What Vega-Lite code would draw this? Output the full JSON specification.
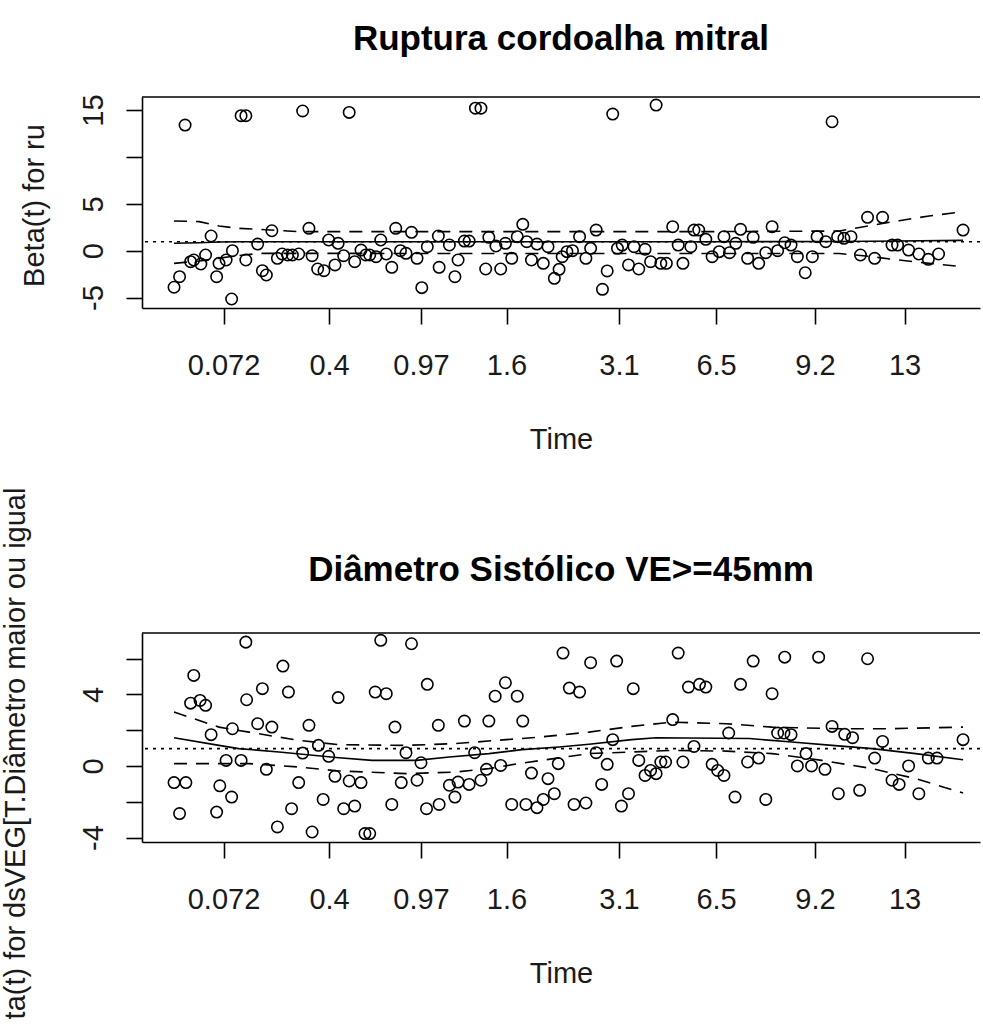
{
  "$schema": "https://vega.github.io/schema/vega-lite/v6.json",
  "background": "white",
  "padding": {"left": 0, "top": 21, "right": 0, "bottom": 0},
  "bounds": "flush",
  "spacing": 325,
  "config": {
    "view": {"stroke": null},
    "font": "Liberation Sans",
    "axis": {
      "domainColor": "#000", "domainWidth": 1.6,
      "tickColor": "#000", "tickWidth": 1.6, "tickSize": 16,
      "labelFont": "Liberation Sans", "labelFontSize": 29, "labelColor": "#1a1a1a",
      "titleFont": "Liberation Sans", "titleFontSize": 29, "titleFontWeight": "normal", "titleColor": "#1a1a1a",
      "grid": false, "labelOverlap": false, "labelFlush": false, "labelBound": false
    },
    "title": {
      "font": "Liberation Sans", "fontSize": 35, "fontWeight": "bold", "color": "#000",
      "anchor": "middle", "frame": "group", "baseline": "alphabetic"
    }
  },
  "datasets": {
    "p1": [
      {"km":0.014,"beta":13.4},{"km":0.085,"beta":14.4},{"km":0.091,"beta":14.4},{"km":0.163,"beta":14.9},
      {"km":0.222,"beta":14.75},{"km":0.382,"beta":15.2},{"km":0.389,"beta":15.2},
      {"km":0.0,"beta":-3.9},{"km":0.007,"beta":-2.77},{"km":0.021,"beta":-1.17},{"km":0.025,"beta":-0.99},
      {"km":0.034,"beta":-1.42},{"km":0.04,"beta":-0.46},{"km":0.047,"beta":1.57},{"km":0.054,"beta":-2.77},
      {"km":0.057,"beta":-1.35},{"km":0.066,"beta":-0.99},{"km":0.073,"beta":-5.15},{"km":0.074,"beta":0},
      {"km":0.091,"beta":-0.99},{"km":0.106,"beta":0.71},{"km":0.112,"beta":-2.13},{"km":0.117,"beta":-2.59},
      {"km":0.124,"beta":2.13},{"km":0.131,"beta":-0.81},{"km":0.137,"beta":-0.35},{"km":0.144,"beta":-0.46},
      {"km":0.15,"beta":-0.46},{"km":0.158,"beta":-0.35},{"km":0.171,"beta":2.39},{"km":0.175,"beta":-0.53},
      {"km":0.182,"beta":-1.95},{"km":0.19,"beta":-2.13},{"km":0.196,"beta":1.14},{"km":0.204,"beta":-1.52},
      {"km":0.208,"beta":0.79},{"km":0.215,"beta":-0.53},{"km":0.229,"beta":-1.17},{"km":0.237,"beta":0.07},
      {"km":0.243,"beta":-0.46},{"km":0.248,"beta":-0.46},{"km":0.256,"beta":-0.64},{"km":0.262,"beta":1.14},
      {"km":0.269,"beta":-0.35},{"km":0.276,"beta":-1.77},{"km":0.281,"beta":2.39},{"km":0.287,"beta":0},
      {"km":0.294,"beta":-0.28},{"km":0.301,"beta":1.96},{"km":0.308,"beta":-0.81},{"km":0.314,"beta":-3.94},
      {"km":0.321,"beta":0.43},{"km":0.335,"beta":1.57},{"km":0.336,"beta":-1.77},{"km":0.349,"beta":0.61},
      {"km":0.356,"beta":-2.77},{"km":0.36,"beta":-0.99},{"km":0.368,"beta":1.03},{"km":0.374,"beta":1.03},
      {"km":0.395,"beta":-1.95},{"km":0.399,"beta":1.43},{"km":0.408,"beta":0.5},{"km":0.414,"beta":-1.95},
      {"km":0.42,"beta":0.79},{"km":0.428,"beta":-0.81},{"km":0.435,"beta":1.5},{"km":0.442,"beta":2.81},
      {"km":0.447,"beta":0.96},{"km":0.453,"beta":-0.99},{"km":0.46,"beta":0.71},{"km":0.468,"beta":-1.35},
      {"km":0.474,"beta":0.43},{"km":0.482,"beta":-2.95},{"km":0.488,"beta":-1.99},{"km":0.492,"beta":-0.64},
      {"km":0.498,"beta":-0.1},{"km":0.505,"beta":0},{"km":0.514,"beta":1.5},{"km":0.522,"beta":-0.81},
      {"km":0.528,"beta":0.25},{"km":0.535,"beta":2.2},{"km":0.543,"beta":-4.12},{"km":0.549,"beta":-2.16},
      {"km":0.556,"beta":14.57},{"km":0.562,"beta":0.25},{"km":0.568,"beta":0.6},{"km":0.576,"beta":-1.52},
      {"km":0.583,"beta":0.43},{"km":0.589,"beta":-1.95},{"km":0.597,"beta":0.15},{"km":0.604,"beta":-1.17},
      {"km":0.611,"beta":15.53},{"km":0.617,"beta":-1.35},{"km":0.624,"beta":-1.35},{"km":0.632,"beta":2.56},
      {"km":0.639,"beta":0.6},{"km":0.645,"beta":-1.35},{"km":0.655,"beta":0.43},{"km":0.659,"beta":2.2},
      {"km":0.665,"beta":2.2},{"km":0.674,"beta":1.21},{"km":0.682,"beta":-0.64},{"km":0.691,"beta":-0.1},
      {"km":0.697,"beta":1.5},{"km":0.704,"beta":-0.21},{"km":0.712,"beta":0.79},{"km":0.718,"beta":2.28},
      {"km":0.727,"beta":-0.81},{"km":0.734,"beta":1.43},{"km":0.741,"beta":-1.35},{"km":0.75,"beta":-0.21},
      {"km":0.758,"beta":2.56},{"km":0.765,"beta":0},{"km":0.774,"beta":0.85},{"km":0.782,"beta":0.6},
      {"km":0.79,"beta":-0.64},{"km":0.8,"beta":-2.35},{"km":0.809,"beta":-0.64},{"km":0.815,"beta":1.5},
      {"km":0.826,"beta":0.96},{"km":0.834,"beta":13.75},{"km":0.841,"beta":1.5},{"km":0.849,"beta":1.32},
      {"km":0.858,"beta":1.5},{"km":0.87,"beta":-0.46},{"km":0.879,"beta":3.56},{"km":0.888,"beta":-0.81},
      {"km":0.898,"beta":3.56},{"km":0.91,"beta":0.6},{"km":0.917,"beta":0.6},{"km":0.931,"beta":0.07},
      {"km":0.944,"beta":-0.35},{"km":0.956,"beta":-0.92},{"km":0.969,"beta":-0.35},{"km":1.0,"beta":2.2}
    ],
    "l1": [
      {"series":"fit","km":0.0,"beta":0.79},{"series":"fit","km":0.032,"beta":0.85},{"series":"fit","km":0.057,"beta":0.93},
      {"series":"fit","km":0.082,"beta":0.96},{"series":"fit","km":0.412,"beta":0.96},{"series":"fit","km":0.665,"beta":0.96},
      {"series":"fit","km":0.843,"beta":0.98},{"series":"fit","km":0.919,"beta":1.04},{"series":"fit","km":1.0,"beta":1.1},
      {"series":"upper","km":0.0,"beta":3.17},{"series":"upper","km":0.032,"beta":3.1},{"series":"upper","km":0.057,"beta":2.63},
      {"series":"upper","km":0.082,"beta":2.39},{"series":"upper","km":0.158,"beta":2.03},{"series":"upper","km":0.412,"beta":2.03},
      {"series":"upper","km":0.665,"beta":2.03},{"series":"upper","km":0.843,"beta":2.1},{"series":"upper","km":0.881,"beta":2.65},
      {"series":"upper","km":0.919,"beta":3.2},{"series":"upper","km":0.957,"beta":3.7},{"series":"upper","km":1.0,"beta":4.16},
      {"series":"lower","km":0.0,"beta":-1.35},{"series":"lower","km":0.032,"beta":-1.1},{"series":"lower","km":0.07,"beta":-0.64},
      {"series":"lower","km":0.108,"beta":-0.28},{"series":"lower","km":0.412,"beta":-0.3},{"series":"lower","km":0.665,"beta":-0.3},
      {"series":"lower","km":0.843,"beta":-0.3},{"series":"lower","km":0.881,"beta":-0.6},{"series":"lower","km":0.919,"beta":-1.0},
      {"series":"lower","km":0.957,"beta":-1.35},{"series":"lower","km":1.0,"beta":-1.7}
    ],
    "c1": [{"beta": 0.96}],
    "box1": [{"beta": 16.39}],
    "p2": [
      {"km":0.0,"beta":-0.93},{"km":0.015,"beta":-0.93},{"km":0.007,"beta":-2.66},{"km":0.025,"beta":5.06},
      {"km":0.021,"beta":3.51},{"km":0.033,"beta":3.66},{"km":0.04,"beta":3.39},{"km":0.047,"beta":1.75},
      {"km":0.054,"beta":-2.58},{"km":0.058,"beta":-1.11},{"km":0.066,"beta":0.31},{"km":0.073,"beta":-1.74},
      {"km":0.074,"beta":2.08},{"km":0.085,"beta":0.31},{"km":0.091,"beta":6.92},{"km":0.092,"beta":3.7},
      {"km":0.106,"beta":2.36},{"km":0.112,"beta":4.32},{"km":0.117,"beta":-0.19},{"km":0.124,"beta":2.17},
      {"km":0.131,"beta":-3.41},{"km":0.138,"beta":5.58},{"km":0.145,"beta":4.13},{"km":0.149,"beta":-2.39},
      {"km":0.158,"beta":-0.93},{"km":0.163,"beta":0.72},{"km":0.171,"beta":2.27},{"km":0.175,"beta":-3.69},
      {"km":0.183,"beta":1.15},{"km":0.189,"beta":-1.87},{"km":0.196,"beta":0.54},{"km":0.204,"beta":-0.58},
      {"km":0.208,"beta":3.82},{"km":0.215,"beta":-2.39},{"km":0.222,"beta":-0.84},{"km":0.229,"beta":-2.24},
      {"km":0.237,"beta":-0.93},{"km":0.242,"beta":-3.78},{"km":0.248,"beta":-3.78},{"km":0.255,"beta":4.13},
      {"km":0.262,"beta":7.02},{"km":0.269,"beta":4.04},{"km":0.276,"beta":-2.15},{"km":0.28,"beta":2.17},
      {"km":0.288,"beta":-0.93},{"km":0.294,"beta":0.74},{"km":0.301,"beta":6.83},{"km":0.308,"beta":-0.8},
      {"km":0.313,"beta":0.18},{"km":0.32,"beta":-2.39},{"km":0.321,"beta":4.56},{"km":0.335,"beta":2.27},
      {"km":0.336,"beta":-2.15},{"km":0.349,"beta":-1.08},{"km":0.356,"beta":-1.74},{"km":0.36,"beta":-0.9},
      {"km":0.368,"beta":2.51},{"km":0.374,"beta":-1.03},{"km":0.381,"beta":0.74},{"km":0.389,"beta":-0.8},
      {"km":0.396,"beta":-0.19},{"km":0.399,"beta":2.51},{"km":0.407,"beta":3.9},{"km":0.414,"beta":0.03},
      {"km":0.42,"beta":4.65},{"km":0.428,"beta":-2.15},{"km":0.435,"beta":3.9},{"km":0.442,"beta":2.51},
      {"km":0.446,"beta":-2.15},{"km":0.453,"beta":-0.4},{"km":0.46,"beta":-2.33},{"km":0.468,"beta":-1.87},
      {"km":0.474,"beta":-0.71},{"km":0.482,"beta":-1.55},{"km":0.487,"beta":0.13},{"km":0.493,"beta":6.31},
      {"km":0.501,"beta":4.35},{"km":0.514,"beta":4.13},{"km":0.507,"beta":-2.15},{"km":0.522,"beta":-2.07},
      {"km":0.528,"beta":5.77},{"km":0.535,"beta":0.74},{"km":0.542,"beta":-1.03},{"km":0.549,"beta":0.09},
      {"km":0.556,"beta":1.47},{"km":0.561,"beta":5.86},{"km":0.567,"beta":-2.24},{"km":0.576,"beta":-1.55},
      {"km":0.582,"beta":4.32},{"km":0.589,"beta":0.31},{"km":0.597,"beta":-0.53},{"km":0.604,"beta":-0.25},
      {"km":0.611,"beta":-0.43},{"km":0.617,"beta":0.22},{"km":0.623,"beta":0.22},{"km":0.632,"beta":2.59},
      {"km":0.639,"beta":6.31},{"km":0.645,"beta":0.22},{"km":0.652,"beta":4.41},{"km":0.666,"beta":4.56},
      {"km":0.674,"beta":4.41},{"km":0.659,"beta":1.09},{"km":0.682,"beta":0.09},{"km":0.689,"beta":-0.25},
      {"km":0.697,"beta":-0.53},{"km":0.703,"beta":1.84},{"km":0.711,"beta":-1.74},{"km":0.718,"beta":4.56},
      {"km":0.727,"beta":0.22},{"km":0.734,"beta":5.86},{"km":0.741,"beta":0.44},{"km":0.75,"beta":-1.87},
      {"km":0.758,"beta":4.04},{"km":0.765,"beta":1.84},{"km":0.773,"beta":1.84},{"km":0.782,"beta":1.75},
      {"km":0.774,"beta":6.08},{"km":0.79,"beta":0},{"km":0.801,"beta":0.69},{"km":0.808,"beta":0},
      {"km":0.817,"beta":6.08},{"km":0.825,"beta":-0.19},{"km":0.834,"beta":2.21},{"km":0.842,"beta":-1.55},
      {"km":0.85,"beta":1.77},{"km":0.86,"beta":1.58},{"km":0.869,"beta":-1.36},{"km":0.879,"beta":5.99},
      {"km":0.888,"beta":0.44},{"km":0.898,"beta":1.37},{"km":0.91,"beta":-0.8},{"km":0.919,"beta":-1.03},
      {"km":0.931,"beta":0},{"km":0.944,"beta":-1.55},{"km":0.956,"beta":0.44},{"km":0.967,"beta":0.44},
      {"km":1.0,"beta":1.47}
    ],
    "l2": [
      {"series":"fit","km":0.0,"beta":1.58},{"series":"fit","km":0.057,"beta":1.15},{"series":"fit","km":0.082,"beta":0.97},
      {"series":"fit","km":0.133,"beta":0.78},{"series":"fit","km":0.209,"beta":0.46},{"series":"fit","km":0.251,"beta":0.31},
      {"series":"fit","km":0.307,"beta":0.31},{"series":"fit","km":0.349,"beta":0.5},{"series":"fit","km":0.399,"beta":0.69},
      {"series":"fit","km":0.441,"beta":0.91},{"series":"fit","km":0.488,"beta":1.06},{"series":"fit","km":0.526,"beta":1.21},
      {"series":"fit","km":0.58,"beta":1.47},{"series":"fit","km":0.611,"beta":1.58},{"series":"fit","km":0.729,"beta":1.53},
      {"series":"fit","km":0.783,"beta":1.34},{"series":"fit","km":0.834,"beta":1.15},{"series":"fit","km":0.885,"beta":0.97},
      {"series":"fit","km":0.94,"beta":0.69},{"series":"fit","km":1.0,"beta":0.35},
      {"series":"upper","km":0.0,"beta":3.01},{"series":"upper","km":0.057,"beta":2.17},{"series":"upper","km":0.095,"beta":1.89},
      {"series":"upper","km":0.158,"beta":1.43},{"series":"upper","km":0.209,"beta":1.19},{"series":"upper","km":0.294,"beta":1.15},
      {"series":"upper","km":0.357,"beta":1.25},{"series":"upper","km":0.421,"beta":1.47},{"series":"upper","km":0.46,"beta":1.6},
      {"series":"upper","km":0.526,"beta":1.89},{"series":"upper","km":0.58,"beta":2.21},{"series":"upper","km":0.631,"beta":2.45},
      {"series":"upper","km":0.7,"beta":2.36},{"series":"upper","km":0.758,"beta":2.17},{"series":"upper","km":0.843,"beta":2.08},
      {"series":"upper","km":0.906,"beta":2.08},{"series":"upper","km":1.0,"beta":2.17},
      {"series":"lower","km":0.0,"beta":0.13},{"series":"lower","km":0.095,"beta":0.13},{"series":"lower","km":0.158,"beta":-0.06},
      {"series":"lower","km":0.209,"beta":-0.28},{"series":"lower","km":0.294,"beta":-0.43},{"series":"lower","km":0.357,"beta":-0.34},
      {"series":"lower","km":0.399,"beta":-0.15},{"series":"lower","km":0.441,"beta":0.16},{"series":"lower","km":0.488,"beta":0.45},
      {"series":"lower","km":0.526,"beta":0.69},{"series":"lower","km":0.58,"beta":0.78},{"series":"lower","km":0.631,"beta":0.87},
      {"series":"lower","km":0.7,"beta":0.83},{"series":"lower","km":0.758,"beta":0.69},{"series":"lower","km":0.821,"beta":0.31},
      {"series":"lower","km":0.885,"beta":-0.15},{"series":"lower","km":0.94,"beta":-0.71},{"series":"lower","km":1.0,"beta":-1.51}
    ],
    "c2": [{"beta": 0.97}],
    "box2": [{"beta": 7.43}]
  },
  "vconcat": [
    {
      "width": 838,
      "height": 211,
      "title": {"text": "Ruptura cordoalha mitral", "offset": 37},
      "layer": [
        {
          "data": {"name": "p1"},
          "mark": {"type": "point", "shape": "circle", "filled": false, "color": "#000", "size": 130, "strokeWidth": 1.6, "opacity": 1},
          "encoding": {
            "x": {
              "field": "km", "type": "quantitative",
              "scale": {"domain": [-0.0406, 1.0215], "nice": false, "zero": false},
              "axis": {
                "values": [0.0627, 0.1965, 0.313, 0.4214, 0.564, 0.687, 0.8124, 0.9259],
                "labelExpr": "datum.value < 0.1 ? '0.072' : datum.value < 0.25 ? '0.4' : datum.value < 0.35 ? '0.97' : datum.value < 0.5 ? '1.6' : datum.value < 0.6 ? '3.1' : datum.value < 0.75 ? '6.5' : datum.value < 0.87 ? '9.2' : '13'",
                "labelPadding": 27,
                "title": "Time", "titleX": 419, "titleY": 140, "titleAlign": "center", "titleBaseline": "alphabetic"
              }
            },
            "y": {
              "field": "beta", "type": "quantitative",
              "scale": {"domain": [-6.11, 16.39], "nice": false, "zero": false},
              "axis": {
                "values": [-5, 0, 5, 10, 15],
                "labelExpr": "datum.value == 10 ? '' : '' + datum.value",
                "labelAngle": 270, "labelAlign": "center", "labelBaseline": "alphabetic", "labelPadding": 24,
                "title": "Beta(t) for ru", "titleAngle": 270, "titleX": -99, "titleY": 108,
                "titleAlign": "center", "titleBaseline": "alphabetic"
              }
            }
          }
        },
        {
          "data": {"name": "l1"},
          "transform": [{"filter": "datum.series == 'fit'"}],
          "mark": {"type": "line", "color": "#000", "strokeWidth": 1.6},
          "encoding": {
            "x": {"field": "km", "type": "quantitative"},
            "y": {"field": "beta", "type": "quantitative"}
          }
        },
        {
          "data": {"name": "l1"},
          "transform": [{"filter": "datum.series != 'fit'"}],
          "mark": {"type": "line", "color": "#000", "strokeWidth": 1.6, "strokeDash": [13, 9]},
          "encoding": {
            "x": {"field": "km", "type": "quantitative"},
            "y": {"field": "beta", "type": "quantitative"},
            "detail": {"field": "series"}
          }
        },
        {
          "data": {"name": "c1"},
          "mark": {"type": "rule", "color": "#000", "strokeWidth": 1.6, "strokeDash": [3, 5]},
          "encoding": {"y": {"field": "beta", "type": "quantitative"}}
        },
        {
          "data": {"name": "box1"},
          "mark": {"type": "rule", "color": "#000", "strokeWidth": 1.6},
          "encoding": {"y": {"field": "beta", "type": "quantitative"}}
        }
      ]
    },
    {
      "width": 838,
      "height": 209,
      "title": {"text": "Diâmetro Sistólico VE>=45mm", "offset": -101},
      "layer": [
        {
          "data": {"name": "p2"},
          "mark": {"type": "point", "shape": "circle", "filled": false, "color": "#000", "size": 130, "strokeWidth": 1.6, "opacity": 1},
          "encoding": {
            "x": {
              "field": "km", "type": "quantitative",
              "scale": {"domain": [-0.0406, 1.0215], "nice": false, "zero": false},
              "axis": {
                "values": [0.0627, 0.1965, 0.313, 0.4214, 0.564, 0.687, 0.8124, 0.9259],
                "labelExpr": "datum.value < 0.1 ? '0.072' : datum.value < 0.25 ? '0.4' : datum.value < 0.35 ? '0.97' : datum.value < 0.5 ? '1.6' : datum.value < 0.6 ? '3.1' : datum.value < 0.75 ? '6.5' : datum.value < 0.87 ? '9.2' : '13'",
                "labelPadding": 27,
                "title": "Time", "titleX": 419, "titleY": 140, "titleAlign": "center", "titleBaseline": "alphabetic"
              }
            },
            "y": {
              "field": "beta", "type": "quantitative",
              "scale": {"domain": [-4.25, 7.43], "nice": false, "zero": false},
              "axis": {
                "values": [-4, -2, 0, 2, 4, 6],
                "labelExpr": "datum.value == -4 || datum.value == 0 || datum.value == 4 ? '' + datum.value : ''",
                "labelAngle": 270, "labelAlign": "center", "labelBaseline": "alphabetic", "labelPadding": 24,
                "title": "ta(t) for dsVEG[T.Diâmetro maior ou igual", "titleAngle": 270, "titleX": -118, "titleY": 120,
                "titleAlign": "center", "titleBaseline": "alphabetic"
              }
            }
          }
        },
        {
          "data": {"name": "l2"},
          "transform": [{"filter": "datum.series == 'fit'"}],
          "mark": {"type": "line", "color": "#000", "strokeWidth": 1.6},
          "encoding": {
            "x": {"field": "km", "type": "quantitative"},
            "y": {"field": "beta", "type": "quantitative"}
          }
        },
        {
          "data": {"name": "l2"},
          "transform": [{"filter": "datum.series != 'fit'"}],
          "mark": {"type": "line", "color": "#000", "strokeWidth": 1.6, "strokeDash": [13, 9]},
          "encoding": {
            "x": {"field": "km", "type": "quantitative"},
            "y": {"field": "beta", "type": "quantitative"},
            "detail": {"field": "series"}
          }
        },
        {
          "data": {"name": "c2"},
          "mark": {"type": "rule", "color": "#000", "strokeWidth": 1.6, "strokeDash": [3, 5]},
          "encoding": {"y": {"field": "beta", "type": "quantitative"}}
        },
        {
          "data": {"name": "box2"},
          "mark": {"type": "rule", "color": "#000", "strokeWidth": 1.6},
          "encoding": {"y": {"field": "beta", "type": "quantitative"}}
        }
      ]
    }
  ]
}
